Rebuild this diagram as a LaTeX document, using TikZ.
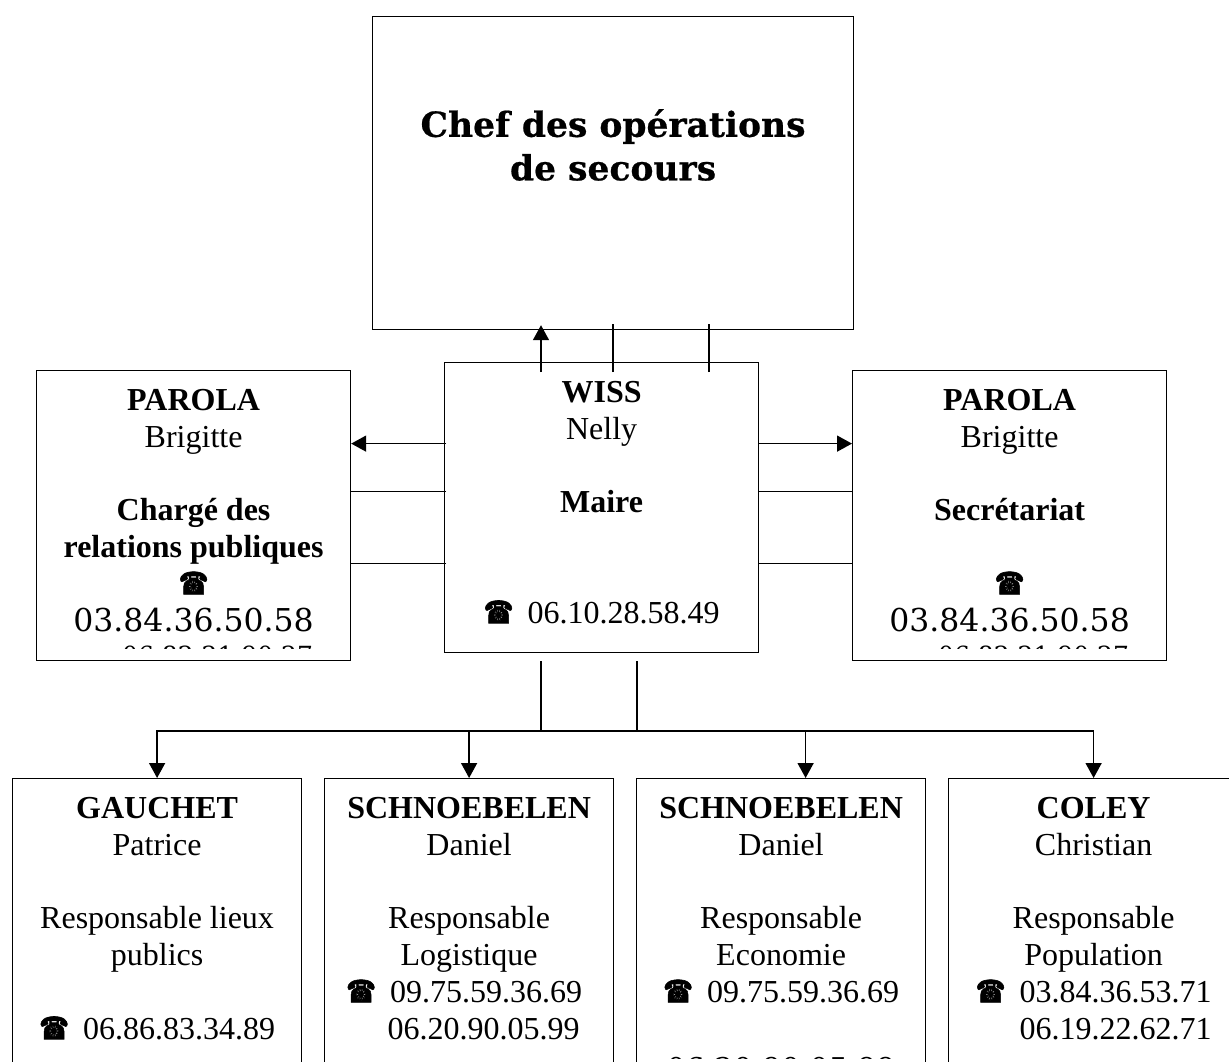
\documentclass[tikz,border=0pt]{standalone}
\usepackage{fontspec}
\usetikzlibrary{arrows.meta,positioning}
\setmainfont{Liberation Serif}
\newfontfamily\widefont{DejaVu Serif}
\newfontfamily\titlefont[FakeBold=0.6]{DejaVu Serif Bold}
\newfontfamily\phonefont[FakeBold=2]{DejaVu Sans}
\newcommand{\phonesign}{\scalebox{1}[1.3]{\phonefont\fontsize{24}{36.8}\selectfont ☎}}
\newcommand{\phonegap}{\hspace{14pt}}
\newcommand{\widenum}[2]{{\widefont\fontsize{#1}{36.8}\selectfont #2}}
\tikzset{
  boxnode/.style={draw, line width=1.2pt, anchor=north west, inner sep=0pt, minimum width=#1},
  boxtext/.style={align=center, inner sep=0pt, font=\fontsize{32}{36.8}\selectfont},
  link/.style={line width=1.6pt},
}

\begin{document}
\begin{tikzpicture}[x=1pt, y=-1pt, >={Triangle[length=15pt,width=16pt]}]
    \useasboundingbox (0,0) rectangle (1229,1061);
    \begin{scope}
    \clip (0,0) rectangle (1229,1061);

    \node[boxnode=481pt, minimum height=313pt] (chef) at (372,16) {};
    \node[boxnode=314pt, minimum height=290pt] (wiss) at (444,362) {};
    \node[boxnode=314pt, minimum height=290pt] (parolaL) at (36,370) {};
    \node[boxnode=314pt, minimum height=290pt] (parolaR) at (852,370) {};
    \node[boxnode=289pt, minimum height=320pt] (gauchet) at (12,778) {};
    \node[boxnode=289pt, minimum height=320pt] (schnoebelenA) at (324,778) {};
    \node[boxnode=289pt, minimum height=320pt] (schnoebelenB) at (636,778) {};
    \node[boxnode=290pt, minimum height=320pt] (coley) at (948,778) {};

    \node[boxtext, font=\titlefont\fontsize{34.5}{43.5}\selectfont, below=93pt of chef.north] (cheftxt)
        {Chef des opérations\\de secours};

    \node[boxtext, below=19pt of wiss.north] (wisstxt)
        {\textbf{WISS}\\Nelly\\ \\\textbf{Maire}\\ \\ \\\phonesign\phonegap 06.10.28.58.49};

    \begin{scope}
    \clip (parolaL.north west) rectangle (350,648);
    \node[boxtext, below=19pt of parolaL.north] (parolaLtxt)
        {\textbf{PAROLA}\\Brigitte\\ \\\textbf{Chargé des}\\\textbf{relations publiques}\\\phonesign\\
         \widenum{31.5}{03.84.36.50.58}\\\hspace*{48pt}\raisebox{3pt}{\widenum{25}{06.82.21.90.27}}};
    \end{scope}

    \begin{scope}
    \clip (parolaR.north west) rectangle (1166,648);
    \node[boxtext, below=19pt of parolaR.north] (parolaRtxt)
        {\textbf{PAROLA}\\Brigitte\\ \\\textbf{Secrétariat}\\ \\\phonesign\\
         \widenum{31.5}{03.84.36.50.58}\\\hspace*{48pt}\raisebox{3pt}{\widenum{25}{06.82.21.90.27}}};
    \end{scope}

    \node[boxtext, below=19pt of gauchet.north] (gauchettxt)
        {\textbf{GAUCHET}\\Patrice\\ \\Responsable lieux\\publics\\ \\\phonesign\phonegap 06.86.83.34.89};
    \node[boxtext, below=19pt of schnoebelenA.north] (schnoebelenAtxt)
        {\textbf{SCHNOEBELEN}\\Daniel\\ \\Responsable\\Logistique\\\hspace*{-10pt}\phonesign\phonegap 09.75.59.36.69\\
         \hspace*{29pt}06.20.90.05.99};
    \begin{scope}
    \clip (schnoebelenB.north west) rectangle (925,1058);
    \node[boxtext, below=19pt of schnoebelenB.north] (schnoebelenBtxt)
        {\textbf{SCHNOEBELEN}\\Daniel\\ \\Responsable\\Economie\\\phonesign\phonegap 09.75.59.36.69\\ \\
         \raisebox{-3pt}{\widenum{30}{06.20.90.05.99}}};
    \end{scope}
    \node[boxtext, below=19pt of coley.north] (coleytxt)
        {\textbf{COLEY}\\Christian\\ \\Responsable\\Population\\\phonesign\phonegap 03.84.36.53.71\\
         \hspace*{44pt}06.19.22.62.71};

    % up to the chef
    \coordinate (upA) at (541,0);
    \coordinate (upB) at (613,0);
    \coordinate (upC) at (709,0);
    \draw[link,->] ([yshift=-10pt]upA |- wiss.north) -- ([yshift=5pt]upA |- chef.south);
    \draw[link] ([yshift=-10pt]upB |- wiss.north) -- ([yshift=6pt]upB |- chef.south);
    \draw[link] ([yshift=-10pt]upC |- wiss.north) -- ([yshift=6pt]upC |- chef.south);

    % left and right
    \draw[link,->] ([xshift=2pt,yshift=64pt]wiss.west) -- ([yshift=64pt]wiss.west -| parolaL.east);
    \draw[link] ([xshift=2pt,yshift=16pt]wiss.west) -- ([yshift=16pt]wiss.west -| parolaL.east);
    \draw[link] ([xshift=2pt,yshift=-56pt]wiss.west) -- ([yshift=-56pt]wiss.west -| parolaL.east);
    \draw[link,->] ([yshift=64pt]wiss.east) -- ([yshift=64pt]wiss.east -| parolaR.west);
    \draw[link] ([yshift=16pt]wiss.east) -- ([yshift=16pt]wiss.east -| parolaR.west);
    \draw[link] ([yshift=-56pt]wiss.east) -- ([yshift=-56pt]wiss.east -| parolaR.west);

    % down to the four boxes
    \coordinate (bus) at (637,731);
    \draw[link] ([yshift=-8pt]bus |- wiss.south) -- (bus);
    \draw[link] ([yshift=-8pt]upA |- wiss.south) -- (upA |- bus);
    \draw[link,->] (bus) -| (gauchet.north);
    \draw[link,->] (bus) -| (schnoebelenA.north);
    \draw[link,->] (bus) -| ([xshift=24.5pt]schnoebelenB.north);
    \draw[link,->] (bus) -| (coley.north);
    \end{scope}
\end{tikzpicture}
\end{document}
